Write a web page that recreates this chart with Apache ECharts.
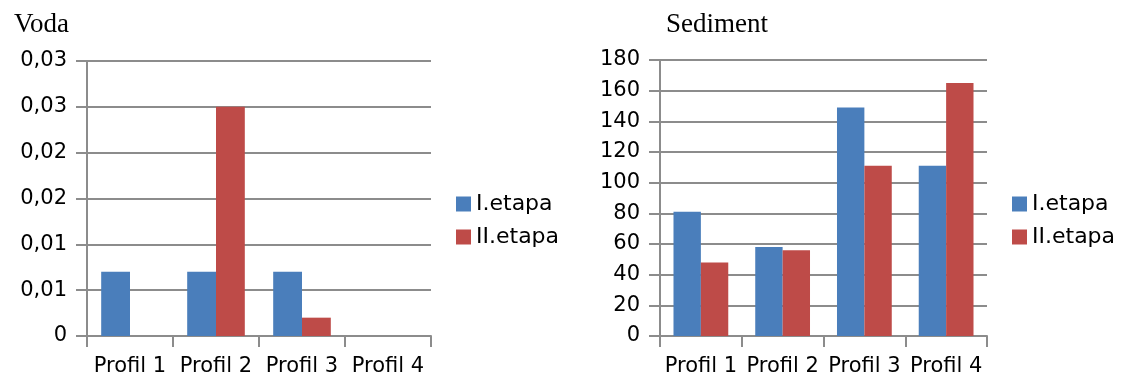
<!DOCTYPE html>
<html>
<head>
<meta charset="utf-8">
<script src="https://cdn.jsdelivr.net/npm/echarts@6/dist/echarts.min.js"></script>
<style>
  html, body { margin: 0; padding: 0; background: #fff; }
  #chart { width: 1121px; height: 377px; }
</style>
</head>
<body>
<div id="chart"></div>
<script>
// Sampling profiles and the two stages
const categories = ['Profil 1', 'Profil 2', 'Profil 3', 'Profil 4'];
const seriesNames = ['I.etapa', 'II.etapa'];

// Water (Voda)
const vodaEtapa1 = [0.007, 0.007, 0.007, 0];
const vodaEtapa2 = [0, 0.025, 0.002, 0];

// Sediment
const sedimentEtapa1 = [81, 58, 149, 111];
const sedimentEtapa2 = [48, 56, 111, 165];

const colors = ['#4A7EBB', '#BE4B48'];
const gridColor = '#8c8c8c';
const textColor = '#000';
const sansFont = 'DejaVu Sans';
const serifFont = 'Liberation Serif';

function vodaLabel(v) {
  if (Math.abs(v) < 1e-12) return '0';
  const r = Math.round(v * 100 + 1e-6) / 100;
  return r.toFixed(2).replace('.', ',');
}

function makeXAxis(gridIndex) {
  return {
    type: 'category',
    gridIndex: gridIndex,
    data: categories,
    axisLine: { show: true, lineStyle: { color: gridColor, width: 2 } },
    axisTick: { show: true, length: 11, lineStyle: { color: gridColor, width: 2 } },
    axisLabel: {
      interval: 0, hideOverlap: false,
      color: textColor, fontFamily: sansFont, fontSize: 21, margin: 20
    },
    splitLine: { show: false }
  };
}

function makeYAxis(gridIndex, max, interval, formatter) {
  return {
    type: 'value',
    gridIndex: gridIndex,
    min: 0,
    max: max,
    interval: interval,
    axisLine: { show: true, lineStyle: { color: gridColor, width: 2 } },
    axisTick: { show: true, length: 11, lineStyle: { color: gridColor, width: 2 } },
    axisLabel: { color: textColor, fontFamily: sansFont, fontSize: 21, margin: 20, formatter: formatter },
    splitLine: { show: true, lineStyle: { color: gridColor, width: 2 } }
  };
}

function makeBar(name, data, axisIndex, colorIndex) {
  return {
    name: name,
    type: 'bar',
    xAxisIndex: axisIndex,
    yAxisIndex: axisIndex,
    data: data,
    barGap: '0%',
    barCategoryGap: '33%',
    itemStyle: { color: colors[colorIndex] },
    emphasis: { disabled: true }
  };
}

function makeLegend(left) {
  return {
    orient: 'vertical',
    left: left,
    top: 188,
    data: seriesNames,
    icon: 'rect',
    itemWidth: 15,
    itemHeight: 15,
    itemGap: 11,
    textStyle: { color: textColor, fontFamily: sansFont, fontSize: 22, lineHeight: 22 },
    selectedMode: false
  };
}

const chart = echarts.init(document.getElementById('chart'), null, { renderer: 'canvas' });
chart.setOption({
  animation: false,
  backgroundColor: '#fff',
  title: [
    { text: 'Voda', left: 9, top: 6, textStyle: { fontFamily: serifFont, fontSize: 27, fontWeight: 'normal', color: textColor } },
    { text: 'Sediment', left: 661, top: 6, textStyle: { fontFamily: serifFont, fontSize: 27, fontWeight: 'normal', color: textColor } }
  ],
  legend: [makeLegend(451), makeLegend(1007)],
  grid: [
    { left: 87, right: 690, top: 61, bottom: 41 },
    { left: 660, right: 134, top: 60, bottom: 41 }
  ],
  xAxis: [makeXAxis(0), makeXAxis(1)],
  yAxis: [
    makeYAxis(0, 0.03, 0.005, vodaLabel),
    makeYAxis(1, 180, 20, v => String(v))
  ],
  series: [
    makeBar(seriesNames[0], vodaEtapa1, 0, 0),
    makeBar(seriesNames[1], vodaEtapa2, 0, 1),
    makeBar(seriesNames[0], sedimentEtapa1, 1, 0),
    makeBar(seriesNames[1], sedimentEtapa2, 1, 1)
  ]
});
</script>
</body>
</html>
